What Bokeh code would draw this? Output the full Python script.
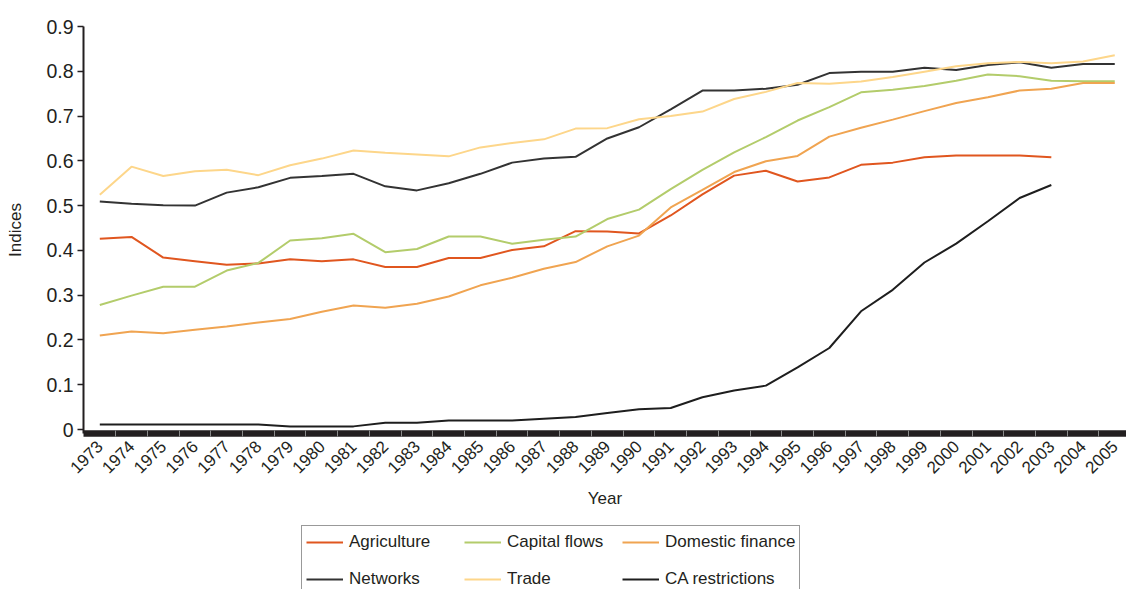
import math
from bokeh.plotting import figure
from bokeh.layouts import column
from bokeh.models import FixedTicker, Legend, LegendItem, Range1d
from bokeh.embed import file_html
from bokeh.resources import INLINE

years = list(range(1973, 2006))

agriculture = [0.426, 0.430, 0.384, 0.376, 0.368, 0.371, 0.380, 0.376, 0.380, 0.363,
               0.363, 0.383, 0.383, 0.401, 0.409, 0.443, 0.442, 0.438, 0.478, 0.525,
               0.567, 0.578, 0.554, 0.563, 0.591, 0.596, 0.608, 0.612, 0.612, 0.612,
               0.608]
capital_flows = [0.278, 0.299, 0.319, 0.319, 0.355, 0.372, 0.422, 0.427, 0.437, 0.396,
                 0.403, 0.431, 0.431, 0.415, 0.424, 0.431, 0.470, 0.491, 0.537, 0.580,
                 0.619, 0.653, 0.690, 0.720, 0.753, 0.759, 0.767, 0.779, 0.793, 0.789,
                 0.779, 0.778, 0.778]
domestic_finance = [0.210, 0.219, 0.215, 0.223, 0.230, 0.239, 0.247, 0.263, 0.277, 0.272,
                    0.281, 0.297, 0.322, 0.339, 0.359, 0.374, 0.409, 0.433, 0.496, 0.535,
                    0.575, 0.599, 0.611, 0.654, 0.674, 0.692, 0.711, 0.729, 0.742, 0.757,
                    0.761, 0.774, 0.774]
networks = [0.509, 0.504, 0.501, 0.500, 0.529, 0.541, 0.562, 0.566, 0.571, 0.543,
            0.534, 0.550, 0.571, 0.596, 0.605, 0.609, 0.650, 0.675, 0.715, 0.757,
            0.757, 0.761, 0.770, 0.796, 0.799, 0.799, 0.808, 0.803, 0.814, 0.820,
            0.808, 0.816, 0.816]
trade = [0.524, 0.587, 0.566, 0.577, 0.580, 0.568, 0.590, 0.605, 0.623, 0.618,
         0.614, 0.610, 0.630, 0.640, 0.648, 0.672, 0.673, 0.693, 0.700, 0.710,
         0.738, 0.754, 0.774, 0.772, 0.777, 0.787, 0.799, 0.811, 0.818, 0.821,
         0.818, 0.822, 0.836]
ca_restrictions = [0.011, 0.011, 0.011, 0.011, 0.011, 0.011, 0.007, 0.007, 0.007, 0.015,
                   0.015, 0.020, 0.020, 0.020, 0.024, 0.028, 0.037, 0.045, 0.048, 0.072,
                   0.087, 0.098, 0.139, 0.182, 0.264, 0.312, 0.373, 0.415, 0.465, 0.517,
                   0.546]

series_names = ["Agriculture", "Capital flows", "Domestic finance",
                "Networks", "Trade", "CA restrictions"]
series_values = [agriculture, capital_flows, domestic_finance,
                 networks, trade, ca_restrictions]
series_colors = ["#e0561f", "#b3cc6b", "#f0a451", "#333333", "#fdd68a", "#1e1e1e"]

y_ticks = [0, 0.1, 0.2, 0.3, 0.4, 0.5, 0.6, 0.7, 0.8, 0.9]
y_tick_labels = ["0", "0.1", "0.2", "0.3", "0.4", "0.5", "0.6", "0.7", "0.8", "0.9"]

FONT = "Liberation Sans"
TXT = "#231f20"

p = figure(width=1126, height=515, output_backend="svg", toolbar_location=None,
           x_range=Range1d(1972.486, 2005.37), y_range=Range1d(-0.0089, 0.9),
           min_border_left=83, min_border_right=0, min_border_top=26,
           min_border_bottom=82)
p.outline_line_color = None
p.xgrid.visible = False
p.ygrid.visible = False
p.background_fill_color = "white"
p.border_fill_color = "white"

for name, vals, col in zip(series_names, series_values, series_colors):
    p.line(years[:len(vals)], vals, line_color=col, line_width=2)

# x axis
xa = p.xaxis[0]
xa.ticker = FixedTicker(ticks=years, minor_ticks=[y + 0.5 for y in years[:-1]])
xa.major_tick_line_color = None
xa.major_tick_in = 0
xa.major_tick_out = 0
xa.minor_tick_in = 3
xa.minor_tick_out = 3
xa.minor_tick_line_color = "#8a8a8a"
xa.minor_tick_line_width = 1
xa.axis_line_width = 6.5
xa.axis_line_color = TXT
xa.major_label_orientation = math.pi / 4
xa.major_label_text_font = FONT
xa.major_label_text_font_size = "17px"
xa.major_label_text_color = TXT
xa.major_label_standoff = 7
xa.axis_label = "Year"
xa.axis_label_text_font = FONT
xa.axis_label_text_font_size = "17px"
xa.axis_label_text_font_style = "normal"
xa.axis_label_text_color = TXT
xa.axis_label_standoff = 7

# y axis
ya = p.yaxis[0]
ya.ticker = FixedTicker(ticks=y_ticks)
ya.major_label_overrides = {t: l for t, l in zip(y_ticks, y_tick_labels)}
ya.major_tick_in = 0
ya.major_tick_out = 6
ya.major_tick_line_color = TXT
ya.major_tick_line_width = 1.5
ya.minor_tick_line_color = None
ya.axis_line_width = 2
ya.axis_line_color = TXT
ya.major_label_text_font = FONT
ya.major_label_text_font_size = "19.5px"
ya.major_label_text_color = TXT
ya.major_label_standoff = 4
ya.axis_label = "Indices"
ya.axis_label_text_font = FONT
ya.axis_label_text_font_size = "17px"
ya.axis_label_text_font_style = "normal"
ya.axis_label_text_color = TXT
ya.axis_label_standoff = 18

# legend strip (separate figure so the legend can sit below the axis);
# its lines carry the same data but lie outside this strip's ranges
p2 = figure(width=1126, height=74, output_backend="svg", toolbar_location=None,
            x_axis_type=None, y_axis_type=None,
            x_range=Range1d(0, 1), y_range=Range1d(0, 1),
            min_border=0, min_border_left=0, min_border_right=0,
            min_border_top=0, min_border_bottom=0)
p2.outline_line_color = None
p2.xgrid.visible = False
p2.ygrid.visible = False

items = []
for name, vals, col in zip(series_names, series_values, series_colors):
    r = p2.line(years[:len(vals)], vals, line_color=col, line_width=2)
    items.append(LegendItem(label=name, renderers=[r]))

legend = Legend(items=items, orientation="horizontal", ncols=3,
                location=(218, -7), margin=0, padding=4, spacing=13,
                glyph_width=37, glyph_height=20, label_standoff=6,
                label_width=102, label_height=24,
                label_text_font=FONT, label_text_font_size="17px",
                label_text_color=TXT, border_line_color="#333333",
                border_line_width=1, background_fill_alpha=1.0)
p2.add_layout(legend, "center")

open("out.html", "w").write(file_html(column(p, p2, spacing=0), INLINE))
